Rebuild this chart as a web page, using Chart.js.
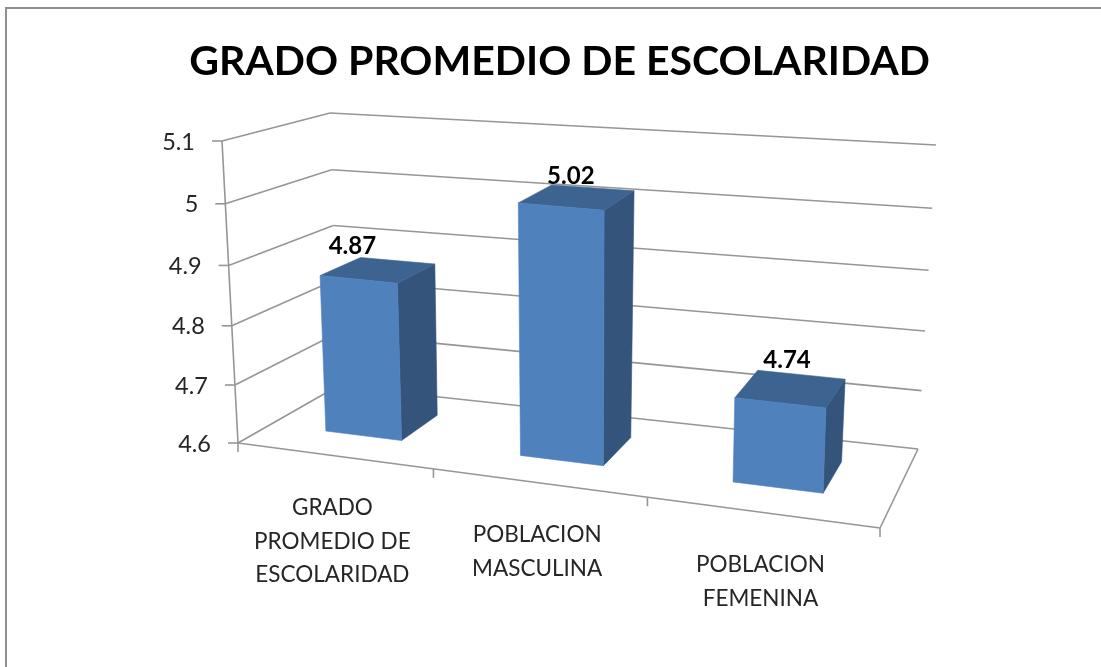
<!DOCTYPE html>
<html><head><meta charset="utf-8">
<style>html,body{margin:0;padding:0;background:#fff}#w{width:1101px;height:667px;position:relative}</style>
<script src="https://cdn.jsdelivr.net/npm/chart.js@4"></script></head>
<body><div id="w"><canvas id="c" width="1101" height="667"></canvas></div>
<script>
const chartTitle = "GRADO PROMEDIO DE ESCOLARIDAD";
const categories = [["GRADO","PROMEDIO DE","ESCOLARIDAD"],["POBLACION","MASCULINA"],["POBLACION","FEMENINA"]];
const values = [4.87, 5.02, 4.74];
const axisMin = 4.6, axisMax = 5.1, axisStep = 0.1;

// Where the corners of the 3D box land on the page (oblique view of the plot box):
// order = front-left, front-right, back-right, back-left
const floorQuad = [[238,443],[880,528],[918,449],[338,386]];
const topQuad   = [[222,141],[891,202],[936,145],[330,113]];
const perspectiveBend = 0.13, heightBend = 0.05;
const barDepth = [0.33, 0.74];
const labelNudge = [[-6,-33],[10,-30],[7,-43]];

function bilerp(q,u,w,k){
  const f=q[0][k]+(q[1][k]-q[0][k])*u, b=q[3][k]+(q[2][k]-q[3][k])*u;
  return f+(b-f)*w;
}
function proj(u,v,w){
  const s=(1-perspectiveBend)*u+perspectiveBend*u*u;
  const h=(1-heightBend)*v+heightBend*v*v;
  return [0,1].map(k=>{
    const a=bilerp(floorQuad,s,w,k),b=bilerp(topQuad,s,w,k);
    return a+(b-a)*h;
  });
}
const FONT='Lato, Carlito, Calibri, sans-serif';
const GRID='#969696';

function poly(ctx,pts,fill){
  ctx.beginPath();pts.forEach((p,i)=>i?ctx.lineTo(p[0],p[1]):ctx.moveTo(p[0],p[1]));ctx.closePath();
  ctx.fillStyle=fill;ctx.strokeStyle=fill;ctx.lineWidth=0.6;ctx.fill();ctx.stroke();
}
function seg(ctx,a,b){ctx.beginPath();ctx.moveTo(a[0],a[1]);ctx.lineTo(b[0],b[1]);ctx.stroke();}

const plot3d={
  id:'plot3d',
  beforeDraw(chart){
    const ctx=chart.ctx;ctx.save();
    ctx.fillStyle='#fff';ctx.fillRect(0,0,chart.width,chart.height);
    ctx.fillStyle='#8f8f8f';ctx.fillRect(5,7,chart.width-5,2);ctx.fillRect(5,7,2,chart.height-7);
    const a=chart.chartArea,ys=chart.scales.y,xs=chart.scales.x;
    const V=val=>(a.bottom-ys.getPixelForValue(val))/(a.bottom-a.top);
    ctx.strokeStyle=GRID;ctx.lineWidth=1.6;
    ys.ticks.forEach(t=>{
      const v=V(t.value);
      const f=proj(0,v,0),bl=proj(0,v,1),br=proj(1,v,1);
      seg(ctx,f,bl);seg(ctx,bl,br);
      seg(ctx,[f[0]-10,f[1]],f);
      ctx.fillStyle='#262626';ctx.font='23.5px '+FONT;ctx.textAlign='right';ctx.textBaseline='middle';
      ctx.fillText(String(+t.value.toFixed(1)),f[0]-27,f[1]+1);
    });
    seg(ctx,proj(0,0,0),proj(0,1,0));
    seg(ctx,proj(0,0,0),proj(1,0,0));seg(ctx,proj(1,0,0),proj(1,0,1));
    for(let i=0;i<=categories.length;i++){
      const p=proj(i/categories.length,0,0);seg(ctx,p,[p[0],p[1]+9]);
    }
    ctx.fillStyle='#262626';ctx.font='22.5px '+FONT;ctx.textAlign='center';ctx.textBaseline='middle';
    xs.getLabels().forEach((lab,i)=>{
      const u=(xs.getPixelForValue(i)-a.left)/(a.right-a.left);
      const p=proj(u,0,0);
      lab.forEach((line,k)=>ctx.fillText(line,p[0]-1,p[1]+52.5+k*33.5));
    });
    ctx.restore();
  },
  beforeDatasetDraw(chart,args){
    const ctx=chart.ctx,a=chart.chartArea,meta=args.meta;
    const U=x=>(x-a.left)/(a.right-a.left),Vp=y=>(a.bottom-y)/(a.bottom-a.top);
    ctx.save();
    meta.data.forEach((el,i)=>{
      const p=el.getProps(['x','y','base','width'],true);
      const u0=U(p.x-p.width/2),u1=U(p.x+p.width/2),v0=Vp(p.base),v1=Vp(p.y);
      const [w0,w1]=barDepth;
      poly(ctx,[proj(u1,v0,w0),proj(u1,v0,w1),proj(u1,v1,w1),proj(u1,v1,w0)],'#34547c');
      poly(ctx,[proj(u0,v1,w0),proj(u1,v1,w0),proj(u1,v1,w1),proj(u0,v1,w1)],'#3d6491');
      poly(ctx,[proj(u0,v0,w0),proj(u1,v0,w0),proj(u1,v1,w0),proj(u0,v1,w0)],'#4f81bd');
      const c=proj((u0+u1)/2,v1,w0);
      ctx.fillStyle='#000';ctx.font='bold 24px '+FONT;ctx.textAlign='center';ctx.textBaseline='middle';
      ctx.fillText(values[i].toFixed(2),c[0]+labelNudge[i][0],c[1]+labelNudge[i][1]);
    });
    ctx.restore();
    return false;
  }
};

new Chart(document.getElementById('c'),{
  type:'bar',
  data:{labels:categories,datasets:[{data:values,backgroundColor:'#4f81bd',base:axisMin,barPercentage:0.4,categoryPercentage:1}]},
  options:{
    responsive:false,animation:false,
    layout:{padding:{left:18,top:0,right:0,bottom:60}},
    plugins:{legend:{display:false},tooltip:{enabled:false},
      title:{display:true,text:chartTitle,color:'#000',font:{family:FONT,size:41,weight:'bold'},padding:{top:37,bottom:20}}},
    scales:{
      x:{display:false,grid:{display:false}},
      y:{display:false,min:axisMin,max:axisMax,ticks:{stepSize:axisStep}}
    }
  },
  plugins:[plot3d]
});
</script></body></html>
